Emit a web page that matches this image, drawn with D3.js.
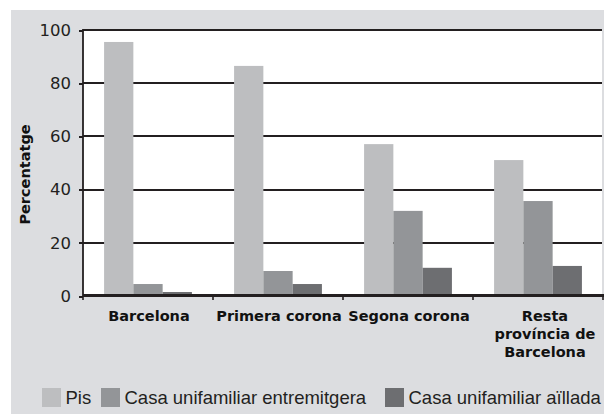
<!DOCTYPE html>
<html>
<head>
<meta charset="utf-8">
<script src="https://cdn.jsdelivr.net/npm/d3@7"></script>
<style>
  html, body { margin: 0; padding: 0; background: #ffffff; }
  svg { display: block; }
</style>
</head>
<body>
<svg id="chart" width="604" height="414"></svg>
<script>
// ---- data ----
const categories = ["Barcelona", "Primera corona", "Segona corona", "Resta província de Barcelona"];
const categoryLines = [["Barcelona"], ["Primera corona"], ["Segona corona"], ["Resta", "província de", "Barcelona"]];
const seriesNames = ["Pis", "Casa unifamiliar entremitgera", "Casa unifamiliar aïllada"];
const pisValues = [95.5, 86.5, 57.1, 51.1];
const entremitgeraValues = [4.5, 9.4, 32.0, 35.7];
const aielladaValues = [1.5, 4.5, 10.6, 11.3];
const yTicks = [0, 20, 40, 60, 80, 100];
const yLabel = "Percentatge";

const seriesValues = [pisValues, entremitgeraValues, aielladaValues];
const colors = ["#bdbec0", "#939598", "#6d6e71"];

const svg = d3.select("#chart");
const W = 604, H = 414;

svg.append("rect").attr("x", 11).attr("y", 10).attr("width", W - 11).attr("height", H - 10).attr("fill", "#dcdde0");

const pLeft = 83, pRight = 602, pTop = 30, pBottom = 296;

svg.append("rect").attr("x", pLeft).attr("y", pTop - 1).attr("width", pRight - pLeft).attr("height", pBottom - pTop + 1).attr("fill", "#ffffff");

const xBand = d3.scaleBand().domain(categories).range([pLeft, pLeft + 520]).paddingInner(0).paddingOuter(0);
const xSub = d3.scaleBand().domain(seriesNames).range([0, xBand.bandwidth()]).paddingInner(0).paddingOuter(0.72);
const yScale = d3.scaleLinear().domain([0, 100]).range([pBottom, pTop]);

// horizontal grid lines
const gridG = svg.append("g").attr("class", "gridlines");
gridG.selectAll("line").data(yTicks.slice(1)).join("line")
  .attr("x1", pLeft).attr("x2", pRight)
  .attr("y1", d => Math.round(yScale(d))).attr("y2", d => Math.round(yScale(d)))
  .attr("stroke", "#231f20").attr("stroke-width", 2)
  .attr("shape-rendering", "crispEdges");

// bars
const rows = categories.map((c, i) => ({ cat: c, vals: seriesNames.map((s, j) => ({ s, v: seriesValues[j][i], j })) }));
svg.append("g").selectAll("g").data(rows).join("g")
  .attr("transform", d => `translate(${xBand(d.cat)},0)`)
  .selectAll("rect").data(d => d.vals).join("rect")
  .attr("x", d => xSub(d.s)).attr("width", xSub.bandwidth())
  .attr("y", d => yScale(d.v)).attr("height", d => yScale(0) - yScale(d.v))
  .attr("fill", d => colors[d.j]);

// y axis
const yAxis = d3.axisLeft(yScale).tickValues(yTicks).tickSize(4).tickPadding(8).tickFormat(d3.format("d"));
const gy = svg.append("g").attr("transform", `translate(${pLeft},0)`).call(yAxis);
gy.select(".domain").attr("stroke", "#231f20").attr("stroke-width", 1.8).attr("d", `M0,${pTop - 1}V${pBottom}`);
gy.selectAll(".tick line").attr("stroke", "#231f20").attr("stroke-width", 2).attr("shape-rendering", "crispEdges");
gy.selectAll(".tick text").attr("fill", "#231f20")
  .style("font-family", "'DejaVu Sans', sans-serif").style("font-size", "16.5px");

// x axis
const xAxis = d3.axisBottom(xBand).tickSize(0).tickFormat("");
const gx = svg.append("g").attr("transform", `translate(0,${pBottom})`).call(xAxis);
gx.select(".domain").remove();
gx.append("rect").attr("x", pLeft).attr("width", pRight + 2 - pLeft).attr("y", -2).attr("height", 3)
  .attr("fill", "#231f20");
const boundaries = categories.map(c => xBand(c)).concat([xBand.range()[1]]);
gx.selectAll("line.sep").data(boundaries).join("line").attr("class", "sep")
  .attr("x1", d => d).attr("x2", d => d).attr("y1", 0).attr("y2", 4)
  .attr("stroke", "#231f20").attr("stroke-width", 1.6);

// category labels
const labs = svg.append("g").selectAll("text").data(categories).join("text")
  .attr("x", (d, i) => xBand(d) + xBand.bandwidth() / 2 + (categoryLines[i].length > 1 ? 7 : 1))
  .attr("y", 321)
  .attr("text-anchor", "middle")
  .attr("fill", "#111")
  .style("font-family", "'DejaVu Sans', sans-serif").style("font-weight", "bold").style("font-size", "14.5px");
labs.each(function(d, i) {
  const t = d3.select(this);
  const cx = t.attr("x");
  categoryLines[i].forEach((ln, k) => {
    t.append("tspan").attr("x", cx).attr("dy", k === 0 ? 0 : 18).text(ln);
  });
});

svg.append("text").attr("transform", `translate(30,174.5) rotate(-90)`)
  .attr("text-anchor", "middle").attr("fill", "#111")
  .style("font-family", "'DejaVu Sans', sans-serif").style("font-weight", "bold").style("font-size", "14.5px")
  .text(yLabel);

const legendX = [42, 101, 385];
const lg = svg.append("g").selectAll("g").data(seriesNames).join("g")
  .attr("transform", (d, i) => `translate(${legendX[i]},388)`);
lg.append("rect").attr("width", 19).attr("height", 19).attr("fill", (d, i) => colors[i]);
lg.append("text").attr("x", 23.5).attr("y", 16).attr("fill", "#231f20")
  .style("font-family", "'Liberation Sans', Arial, sans-serif").style("font-size", "18.5px")
  .text(d => d);

svg.append("rect").attr("x", pRight).attr("y", 10).attr("width", 2).attr("height", pBottom - 10 - 2).attr("fill", "#dcdde0");
</script>
</body>
</html>
